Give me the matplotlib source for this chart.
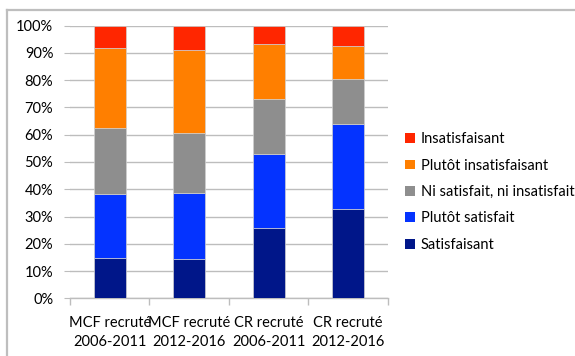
import matplotlib.pyplot as plt
from matplotlib.patches import Patch
from matplotlib.lines import Line2D

plt.rcParams['font.family'] = ['Lato', 'DejaVu Sans']

categories = ["MCF recruté\n2006-2011", "MCF recruté\n2012-2016",
              "CR recruté\n2006-2011", "CR recruté\n2012-2016"]

# share of answers per category, bottom to top (%)
satisfaisant = [14.7, 14.4, 25.8, 32.7]
plutot_satisfait = [23.5, 24.2, 27.0, 31.3]
ni_ni = [24.4, 21.9, 20.2, 16.3]
plutot_insatisfaisant = [29.1, 30.4, 20.3, 12.1]
insatisfaisant = [8.3, 9.1, 6.7, 7.6]

series = [
    ("Satisfaisant", satisfaisant, "#001689"),
    ("Plutôt satisfait", plutot_satisfait, "#0433FF"),
    ("Ni satisfait, ni insatisfait", ni_ni, "#8E8E8E"),
    ("Plutôt insatisfaisant", plutot_insatisfaisant, "#FF7F00"),
    ("Insatisfaisant", insatisfaisant, "#FF2600"),
]

fig = plt.figure(figsize=(5.75, 3.56), dpi=100)
ax = fig.add_axes([0.1217, 0.162, 0.553, 0.766])

x = list(range(len(categories)))
bottom = [0.0] * len(categories)
handles = []
for name, vals, col in series:
    ax.bar(x, vals, width=0.4, bottom=bottom, color=col,
           edgecolor="#D0D0D0", linewidth=0.5, zorder=3)
    bottom = [b + v for b, v in zip(bottom, vals)]
    handles.append(Patch(facecolor=col, label=name))

ax.set_xlim(-0.5, len(categories) - 0.5)
ax.set_ylim(0, 100)
ax.set_yticks(range(0, 101, 10))
ax.set_yticklabels([f"{v}%" for v in range(0, 101, 10)], fontsize=10.5)
ax.yaxis.grid(True, color="#BDBDBD", linewidth=1, zorder=0)
ax.tick_params(axis="y", length=4, color="#BDBDBD", pad=8)

# category labels in the middle, tick marks on the boundaries
ax.set_xticks(x)
ax.set_xticklabels(categories, fontsize=10.5, linespacing=1.4)
ax.tick_params(axis="x", length=0, pad=13)
ax.set_xticks([i - 0.5 for i in range(len(categories) + 1)], minor=True)
ax.tick_params(axis="x", which="minor", length=5, color="#BDBDBD", width=1)

for s in ["top", "right", "left"]:
    ax.spines[s].set_visible(False)
ax.spines["bottom"].set_color("#BDBDBD")
ax.spines["bottom"].set_linewidth(1)

leg = fig.legend(handles=handles[::-1], loc="upper left",
                 bbox_to_anchor=(0.695, 0.645), frameon=False,
                 fontsize=10.5, handlelength=0.65, handleheight=0.65,
                 handletextpad=0.4, labelspacing=0.85, borderaxespad=0)

# outer frame: top and left edges only
fig.add_artist(Line2D([0.013, 1.0], [0.971, 0.971], color="#BEBEBE",
                      linewidth=1.6, transform=fig.transFigure))
fig.add_artist(Line2D([0.013, 0.013], [0.0, 0.971], color="#BEBEBE",
                      linewidth=1.6, transform=fig.transFigure))

fig.savefig("out.png", dpi=100)
